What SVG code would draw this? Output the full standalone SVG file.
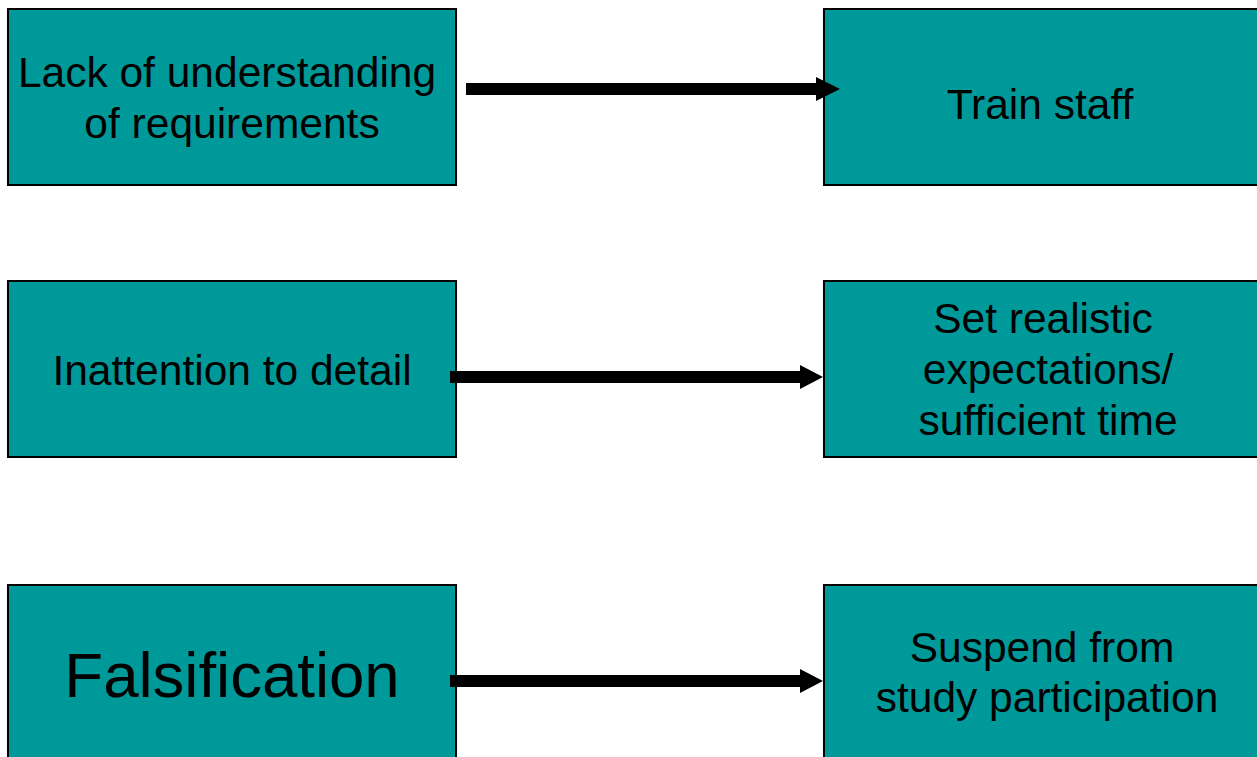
<svg xmlns="http://www.w3.org/2000/svg" width="1257" height="757" viewBox="0 0 1257 757">
<style>
.box{fill:#009999;stroke:#000;stroke-width:2}
.t{font-family:"Liberation Sans",Arial,sans-serif;font-size:42.5px;fill:#000;text-anchor:middle}
.big{font-size:63.5px}
.shaft{stroke:#000;stroke-width:12;fill:none}
.head{fill:#000}
</style>
<rect width="1257" height="757" fill="#fff"/>
<g id="n1"><rect class="box" x="8" y="9" width="448" height="176"/>
<text class="t" x="227" y="87">Lack of understanding</text><text class="t" x="232" y="138">of requirements</text></g>
<g id="n2"><rect class="box" x="824" y="9" width="440" height="176"/>
<text class="t" x="1040" y="119">Train staff</text></g>
<g id="n3"><rect class="box" x="8" y="281" width="448" height="176"/>
<text class="t" x="232" y="385">Inattention to detail</text></g>
<g id="n4"><rect class="box" x="824" y="281" width="440" height="176"/>
<text class="t" x="1043" y="333">Set realistic</text><text class="t" x="1048" y="384">expectations/</text><text class="t" x="1048" y="435">sufficient time</text></g>
<g id="n5"><rect class="box" x="8" y="585" width="448" height="190"/>
<text class="t big" x="232" y="697">Falsification</text></g>
<g id="n6"><rect class="box" x="824" y="585" width="440" height="190"/>
<text class="t" x="1042" y="662">Suspend from</text><text class="t" x="1047" y="712">study participation</text></g>
<g id="connectors">
<line class="shaft" x1="466" y1="89" x2="817" y2="89"/><polygon class="head" points="816,77 840,89 816,101"/>
<line class="shaft" x1="450" y1="377" x2="801" y2="377"/><polygon class="head" points="800,365 823,377 800,389"/>
<line class="shaft" x1="450" y1="681" x2="801" y2="681"/><polygon class="head" points="800,669 823,681 800,693"/>
</g>
</svg>
